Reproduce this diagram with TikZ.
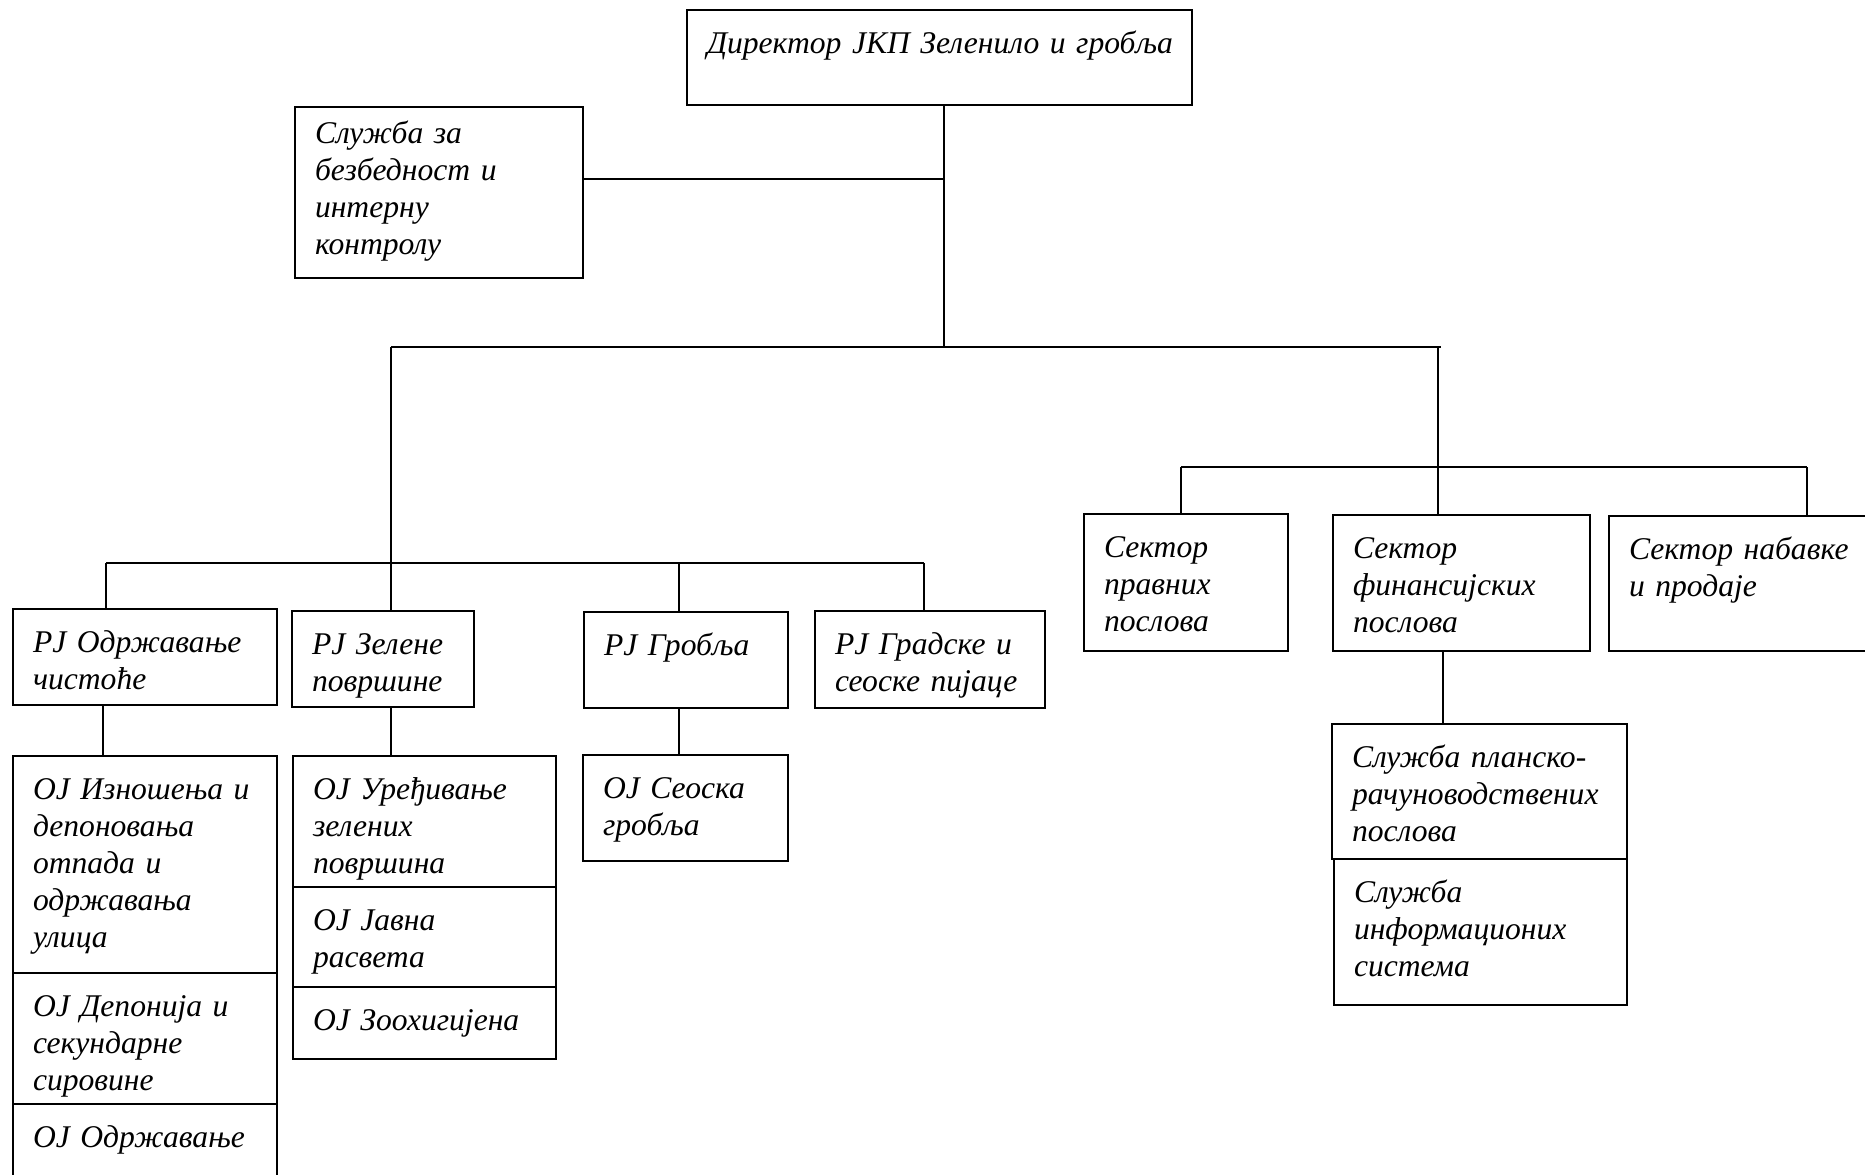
\documentclass[tikz,border=0pt]{standalone}
\usepackage{fontspec}
\setmainfont{Liberation Serif}
\usetikzlibrary{fit}

\begin{document}
\begin{tikzpicture}[x=.5pt, y=-.5pt,
  unit/.style={draw, line width=1pt, inner sep=0pt},
  lbl/.style={anchor=north west, xshift=10.3pt, yshift=-8.8pt, inner sep=0pt,
    text width=300pt, align=left, font=\itshape\fontsize{15.8}{18.6}\selectfont,
    execute at begin node=\noindent\strut},
  link/.style={line width=.75pt}
  ]
  \useasboundingbox (0,0) rectangle (1865,1174);
  \clip (0,0) rectangle (1865,1174);
  \fill[white] (0,0) rectangle (1865,1174);

  % top
  \node[unit, fit={(687,10) (1192,105)},
    label={[lbl]north west:Директор ЈКП Зеленило и гробља}] (dir) {};
  \node[unit, fit={(295,107) (583,278)},
    label={[lbl, yshift=3.5pt]north west:{Служба за\\безбедност и\\интерну\\контролу}}] (bzb) {};

  % RJ
  \node[unit, fit={(13,609) (277,705)},
    label={[lbl]north west:{РЈ Одржавање\\чистоће}}] (rjc) {};
  \node[unit, fit={(292,611) (474,707)},
    label={[lbl]north west:{РЈ Зелене\\површине}}] (rjz) {};
  \node[unit, fit={(584,612) (788,708)},
    label={[lbl]north west:РЈ Гробља}] (rjg) {};
  \node[unit, fit={(815,611) (1045,708)},
    label={[lbl]north west:{РЈ Градске и\\сеоске пијаце}}] (rjp) {};

  % sektori
  \node[unit, fit={(1084,514) (1288,651)},
    label={[lbl]north west:{Сектор\\правних\\послова}}] (sp) {};
  \node[unit, fit={(1333,515) (1590,651)},
    label={[lbl]north west:{Сектор\\финансијских\\послова}}] (sf) {};
  \node[unit, fit={(1609,516) (1880,651)},
    label={[lbl]north west:{Сектор набавке\\и продаје}}] (sn) {};

  % OJ
  \node[unit, fit={(13,756) (277,973)},
    label={[lbl]north west:{ОЈ Изношења и\\депоновања\\отпада и\\одржавања\\улица}}] (oji) {};
  \node[unit, fit={(13,973) (277,1104)},
    label={[lbl]north west:{ОЈ Депонија и\\секундарне\\сировине}}] (ojd) {};
  \node[unit, fit={(13,1104) (277,1190)},
    label={[lbl]north west:ОЈ Одржавање}] (ojo) {};
  \node[unit, fit={(293,756) (556,887)},
    label={[lbl]north west:{ОЈ Уређивање\\зелених\\површина}}] (oju) {};
  \node[unit, fit={(293,887) (556,987)},
    label={[lbl]north west:{ОЈ Јавна\\расвета}}] (ojj) {};
  \node[unit, fit={(293,987) (556,1059)},
    label={[lbl]north west:ОЈ Зоохигијена}] (ojz) {};
  \node[unit, fit={(583,755) (788,861)},
    label={[lbl]north west:{ОЈ Сеоска\\гробља}}] (ojs) {};

  % sluzbe
  \node[unit, fit={(1332,724) (1627,859)},
    label={[lbl]north west:{Служба планско-\\рачуноводствених\\послова}}] (slp) {};
  \node[unit, fit={(1334,859) (1627,1005)},
    label={[lbl]north west:{Служба\\информационих\\система}}] (sli) {};

  % veze
  \coordinate (jb) at (944,179);
  \coordinate (j0) at (944,347);
  \coordinate (jl) at (391,347);
  \coordinate (jr) at (1438,347);
  \coordinate (jm) at (391,563);
  \coordinate (b2l) at (106,563);
  \coordinate (b2g) at (679,563);
  \coordinate (b2r) at (924,563);
  \coordinate (b3l) at (1181,467);
  \coordinate (b3r) at (1807,467);

  \draw[link] (dir.south -| j0) -- (j0);
  \draw[link] (jb -| bzb.east) -- (jb);
  \draw[link] (jl) -- ([xshift=1.5pt]jr);
  \draw[link] (jl) -- (jm);
  \draw[link] (b2l) -- (b2r);
  \draw[link] (b2l) -- (b2l |- rjc.north);
  \draw[link] (jm) -- (jm |- rjz.north);
  \draw[link] (b2g) -- (b2g |- rjg.north);
  \draw[link] (b2r) -- (b2r |- rjp.north);
  \draw[link] (jr) -- (jr |- sf.north);
  \draw[link] (b3l) -- (b3r);
  \draw[link] (b3l) -- (b3l |- sp.north);
  \draw[link] (b3r) -- (b3r |- sn.north);
  \draw[link] (rjc.south -| 103,0) -- (oji.north -| 103,0);
  \draw[link] (rjz.south -| jm) -- (oju.north -| jm);
  \draw[link] (rjg.south -| b2g) -- (ojs.north -| b2g);
  \draw[link] (sf.south -| 1443,0) -- (slp.north -| 1443,0);
\end{tikzpicture}
\end{document}
